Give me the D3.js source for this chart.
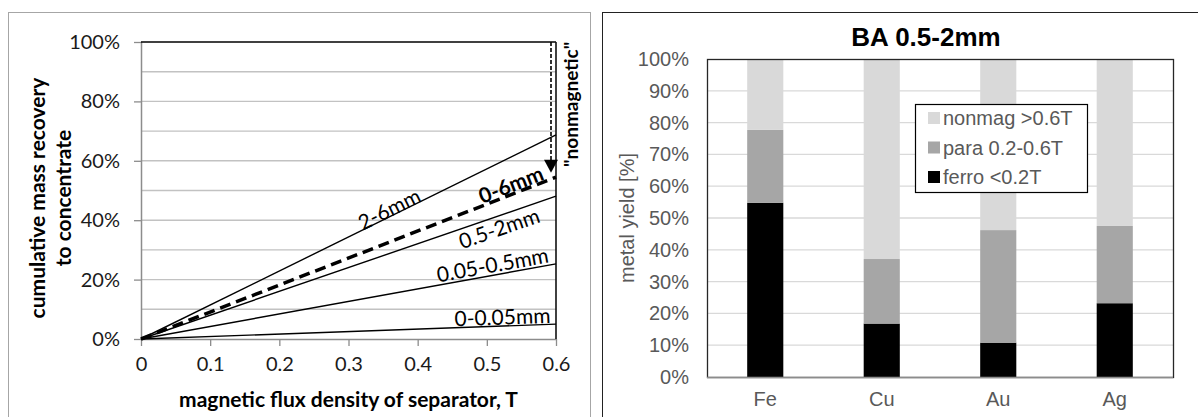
<!DOCTYPE html>
<html>
<head>
<meta charset="utf-8">
<script src="https://cdn.jsdelivr.net/npm/d3@7"></script>
<style>
  body { margin: 0; background: #fff; }
  svg { display: block; }
</style>
</head>
<body>
<svg id="chart" width="1198" height="417"></svg>
<script>
// left chart: cumulative mass recovery vs flux density (straight lines from origin)
var fluxX = [0, 0.6];
var fractions = ["0-0.05mm", "0.05-0.5mm", "0.5-2mm", "2-6mm", "0-6mm"];
var recovery = [
  [0, 0.050],
  [0, 0.253],
  [0, 0.481],
  [0, 0.687],
  [0, 0.545]
];
var fluxTicks = [0, 0.1, 0.2, 0.3, 0.4, 0.5, 0.6];
var recoveryTicks = [0, 0.2, 0.4, 0.6, 0.8, 1.0];
var recoveryGrid = [0.1, 0.2, 0.3, 0.4, 0.5, 0.6, 0.7, 0.8, 0.9];

// right chart: metal yield per magnetic class, BA 0.5-2mm
var metals = ["Fe", "Cu", "Au", "Ag"];
var ferro = [0.548, 0.168, 0.108, 0.232];
var para = [0.229, 0.203, 0.354, 0.243];
var nonmag = [0.223, 0.629, 0.538, 0.525];
var yieldTicks = [0, 0.1, 0.2, 0.3, 0.4, 0.5, 0.6, 0.7, 0.8, 0.9, 1.0];

var svg = d3.select("#chart");
var leftFont = "Lato, 'Open Sans', sans-serif";
var rightFont = "'Liberation Sans', Arial, sans-serif";

// ---------- left panel ----------
svg.append("rect")
   .attr("x", 8.5).attr("y", 12.5)
   .attr("width", 582).attr("height", 420)
   .attr("fill", "none").attr("stroke", "#a6a6a6");

var x1 = d3.scaleLinear().domain([0, 0.6]).range([141, 556]);
var y1 = d3.scaleLinear().domain([0, 1]).range([339, 42]);

var left = svg.append("g");

left.selectAll(".grid")
    .data(recoveryGrid)
    .enter().append("line")
    .attr("x1", x1(0)).attr("x2", x1(0.6))
    .attr("y1", function(d) { return y1(d); })
    .attr("y2", function(d) { return y1(d); })
    .attr("stroke", "#c2c2c2").attr("stroke-width", 1.4);

var xAxis1 = left.append("g")
    .attr("transform", "translate(0," + y1(0) + ")")
    .call(d3.axisBottom(x1).tickValues(fluxTicks).tickSize(7).tickPadding(11)
          .tickFormat(function(d) { return d === 0 ? "0" : d3.format(".1f")(d); }));

var yAxis1 = left.append("g")
    .attr("transform", "translate(" + x1(0) + ",0)")
    .call(d3.axisLeft(y1).tickValues(recoveryTicks).tickSize(7).tickPadding(14)
          .tickFormat(d3.format(".0%")));

[xAxis1, yAxis1].forEach(function(a) {
  a.select(".domain").attr("stroke", "#8c8c8c").attr("stroke-width", 1.5);
  a.selectAll(".tick line").attr("stroke", "#8c8c8c").attr("stroke-width", 1.3);
  a.selectAll("text").attr("font-family", leftFont).attr("font-size", 20).attr("fill", "#1a1a1a");
});
xAxis1.select(".domain").attr("d", "M" + x1(0) + ",0.5H" + x1(0.6));
yAxis1.select(".domain").attr("d", "M0.5," + y1(0) + "V" + y1(1));

// top and right frame lines
left.append("line")
    .attr("x1", x1(0)).attr("x2", x1(0.6))
    .attr("y1", y1(1)).attr("y2", y1(1))
    .attr("stroke", "#000").attr("stroke-width", 1.6);
left.append("line")
    .attr("x1", x1(0.6)).attr("x2", x1(0.6))
    .attr("y1", y1(1)).attr("y2", y1(0))
    .attr("stroke", "#111").attr("stroke-width", 1.6);

var line1 = d3.line()
    .x(function(d, i) { return x1(fluxX[i]); })
    .y(function(d) { return y1(d); });

left.selectAll(".series")
    .data(recovery)
    .enter().append("path")
    .attr("d", line1)
    .attr("fill", "none")
    .attr("stroke", "#000")
    .attr("stroke-width", function(d, i) { return fractions[i] === "0-6mm" ? 3.5 : 1.4; })
    .attr("stroke-dasharray", function(d, i) { return fractions[i] === "0-6mm" ? "11,6" : null; });

// labels along the lines: [series index, x position, perpendicular offset]
var labelPos = [[0, 0.522, -10], [1, 0.505, -12], [2, 0.524, 14], [3, 0.350, -13], [4, 0.527, -14]];
labelPos.forEach(function(p) {
  var s = recovery[p[0]];
  var ang = Math.atan2(y1(s[1]) - y1(s[0]), x1(0.6) - x1(0));
  var px = x1(p[1]) + Math.sin(ang) * p[2];
  var py = y1(s[1] * p[1] / 0.6) + Math.cos(ang) * p[2];
  left.append("text")
      .attr("transform", "translate(" + px + "," + py + ") rotate(" + (ang * 180 / Math.PI) + ")")
      .attr("text-anchor", "middle")
      .attr("dominant-baseline", "central")
      .attr("font-family", leftFont)
      .attr("font-size", 21)
      .attr("font-weight", fractions[p[0]] === "0-6mm" ? "bold" : "normal")
      .text(fractions[p[0]]);
});

// "nonmagnetic" arrow
var arrowX = x1(0.6) - 5;
var arrowTip = y1(0.56);
left.append("line")
    .attr("x1", arrowX).attr("x2", arrowX)
    .attr("y1", y1(1)).attr("y2", arrowTip - 10)
    .attr("stroke", "#000").attr("stroke-width", 1.6)
    .attr("stroke-dasharray", "4,2");
left.append("path")
    .attr("d", "M" + (arrowX - 7) + "," + (arrowTip - 13) + "L" + (arrowX + 7) + "," + (arrowTip - 13) +
               "L" + arrowX + "," + arrowTip + "Z")
    .attr("fill", "#000");
left.append("text")
    .attr("transform", "translate(" + (x1(0.6) + 14) + "," + y1(0.79) + ") rotate(-90)")
    .attr("text-anchor", "middle")
    .attr("dominant-baseline", "central")
    .attr("font-family", leftFont).attr("font-size", 19).attr("font-weight", "bold")
    .text("\"nonmagnetic\"");

left.append("text")
    .attr("x", (x1(0) + x1(0.6)) / 2).attr("y", 407)
    .attr("text-anchor", "middle")
    .attr("font-family", leftFont).attr("font-size", 21).attr("font-weight", "bold")
    .text("magnetic flux density of separator, T");

var yTitle = left.append("text")
    .attr("transform", "translate(38,198) rotate(-90)")
    .attr("text-anchor", "middle")
    .attr("font-family", leftFont).attr("font-size", 21).attr("font-weight", "bold");
yTitle.append("tspan").attr("x", 0).attr("dy", "0.35em").text("cumulative mass recovery");
yTitle.append("tspan").attr("x", 0).attr("dy", "1.2em").text("to concentrate");

// ---------- right panel ----------
svg.append("rect")
   .attr("x", 602.5).attr("y", 12.5)
   .attr("width", 620).attr("height", 420)
   .attr("fill", "none").attr("stroke", "#222");

var x2 = d3.scaleBand().domain(metals).range([707, 1173]).paddingInner(0.69).paddingOuter(0.345);
var y2 = d3.scaleLinear().domain([0, 1]).range([377, 59]);

var right = svg.append("g");

right.selectAll(".grid")
     .data(yieldTicks.slice(1, -1))
     .enter().append("line")
     .attr("x1", 707).attr("x2", 1173)
     .attr("y1", function(d) { return y2(d); })
     .attr("y2", function(d) { return y2(d); })
     .attr("stroke", "#d9d9d9").attr("stroke-width", 1.3);

var table = metals.map(function(m, i) {
  return {metal: m, ferro: ferro[i], para: para[i], nonmag: nonmag[i]};
});
var keys = ["ferro", "para", "nonmag"];
var colors = {ferro: "#000000", para: "#a6a6a6", nonmag: "#d9d9d9"};
var stacked = d3.stack().keys(keys)(table);

right.selectAll(".layer")
     .data(stacked)
     .enter().append("g")
     .attr("fill", function(d) { return colors[d.key]; })
     .selectAll("rect")
     .data(function(d) { return d; })
     .enter().append("rect")
     .attr("x", function(d) { return x2(d.data.metal); })
     .attr("width", x2.bandwidth())
     .attr("y", function(d) { return y2(d[1]); })
     .attr("height", function(d) { return y2(d[0]) - y2(d[1]); });

right.append("rect")
     .attr("x", 707.5).attr("y", y2(1) + 0.5)
     .attr("width", 1173 - 707).attr("height", y2(0) - y2(1))
     .attr("fill", "none").attr("stroke", "#262626").attr("stroke-width", 1.3);
right.append("line")
     .attr("x1", 707).attr("x2", 1173)
     .attr("y1", y2(0) + 0.5).attr("y2", y2(0) + 0.5)
     .attr("stroke", "#8c8c8c").attr("stroke-width", 1.5);

var yAxis2 = right.append("g")
    .attr("transform", "translate(707,0)")
    .call(d3.axisLeft(y2).tickValues(yieldTicks).tickSize(0).tickPadding(18)
          .tickFormat(d3.format(".0%")));
var xAxis2 = right.append("g")
    .attr("transform", "translate(0," + y2(0) + ")")
    .call(d3.axisBottom(x2).tickSize(0).tickPadding(15));
[yAxis2, xAxis2].forEach(function(a) {
  a.select(".domain").remove();
  a.selectAll("text").attr("font-family", rightFont).attr("font-size", 20).attr("fill", "#595959");
});

right.append("text")
     .attr("x", 926).attr("y", 46)
     .attr("text-anchor", "middle")
     .attr("font-family", rightFont).attr("font-size", 26).attr("font-weight", "bold")
     .text("BA 0.5-2mm");

right.append("text")
     .attr("transform", "translate(634," + ((y2(0) + y2(1)) / 2) + ") rotate(-90)")
     .attr("text-anchor", "middle")
     .attr("font-family", rightFont).attr("font-size", 20).attr("fill", "#595959")
     .text("metal yield [%]");

// legend
var legendItems = [["nonmag", "nonmag >0.6T"], ["para", "para 0.2-0.6T"], ["ferro", "ferro <0.2T"]];
var legend = right.append("g").attr("transform", "translate(915,104)");
legend.append("rect")
      .attr("x", 0.5).attr("y", 0.5).attr("width", 172).attr("height", 88)
      .attr("fill", "#fff").attr("stroke", "#000").attr("stroke-width", 1.2);
legend.selectAll(".item")
      .data(legendItems)
      .enter().append("g")
      .attr("transform", function(d, i) { return "translate(13," + (14 + i * 29.5) + ")"; })
      .each(function(d) {
        var g = d3.select(this);
        g.append("rect").attr("x", 0).attr("y", -6).attr("width", 12).attr("height", 12)
         .attr("fill", colors[d[0]]);
        g.append("text").attr("x", 15).attr("y", 0).attr("dy", "0.35em")
         .attr("font-family", rightFont).attr("font-size", 20).attr("fill", "#595959")
         .text(d[1]);
      });
</script>
</body>
</html>
